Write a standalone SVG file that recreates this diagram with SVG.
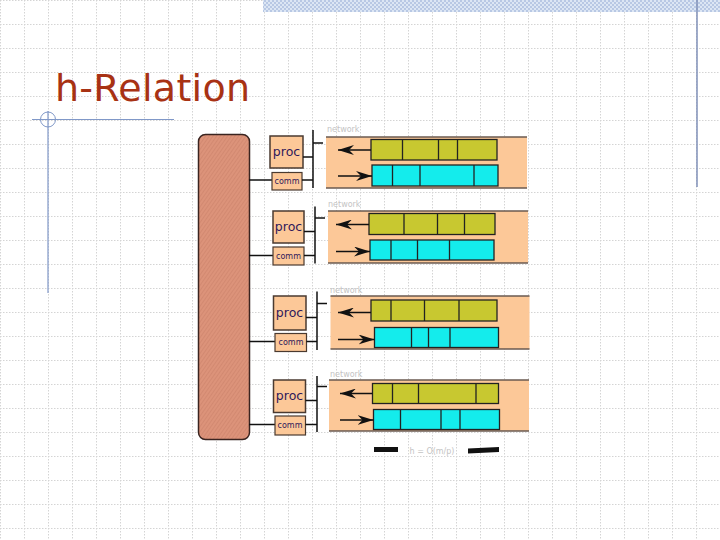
<svg xmlns="http://www.w3.org/2000/svg" width="720" height="540" viewBox="0 0 720 540">
<defs>
<pattern id="grid" x="0" y="0" width="24" height="24" patternUnits="userSpaceOnUse">
<path d="M0 0.5H24M0.5 0V24" stroke="#d4d4d4" stroke-width="1" stroke-dasharray="1.5,1.5" fill="none"/>
</pattern>
<pattern id="check" width="4" height="4" patternUnits="userSpaceOnUse">
<rect width="4" height="4" fill="#dce6f4"/>
<rect width="2" height="2" fill="#b8c8e4"/>
<rect x="2" y="2" width="2" height="2" fill="#b8c8e4"/>
</pattern>
<pattern id="hatch" width="3" height="3" patternUnits="userSpaceOnUse" patternTransform="rotate(35)">
<rect width="3" height="3" fill="#dc937a"/>
<line x1="0" y1="0" x2="0" y2="3" stroke="#c88068" stroke-width="1"/>
</pattern>
<marker id="ah" viewBox="0 0 16 10" refX="16" refY="5" markerWidth="16" markerHeight="10" markerUnits="userSpaceOnUse" orient="auto">
<path d="M0 0L16 5L0 10L5 5Z" fill="#111"/>
</marker>
<style>
.proc{fill:#fcc898;stroke:#4a3a30;stroke-width:1.5}
.comm{fill:#fcc898;stroke:#4a3a30;stroke-width:1.2}
.panel{fill:#fcc898}
.pedge{stroke:#6a5a50;stroke-width:1.5}
.olive{fill:#c8c830;stroke:#222;stroke-width:1.3}
.cyan{fill:#14ecec;stroke:#222;stroke-width:1.3}
.div{stroke:#222;stroke-width:1.3}
.wire{stroke:#111;stroke-width:1.5;fill:none}
.arr{stroke:#111;stroke-width:1.5;fill:none;marker-end:url(#ah)}
.tp{font-family:"DejaVu Sans",Verdana,sans-serif;font-size:12.5px;fill:#30185a}
.tc{font-family:"DejaVu Sans",Verdana,sans-serif;font-size:8px;fill:#30185a}
.tn{font-family:"DejaVu Sans",sans-serif;font-size:8px;fill:#c4c4c4}
</style>
</defs>
<rect width="720" height="540" fill="#fff"/>
<rect width="720" height="540" fill="url(#grid)"/>
<rect x="263" y="0" width="457" height="12" fill="url(#check)"/>
<line x1="697" y1="0" x2="697" y2="187" stroke="#8090b8" stroke-width="1.5"/>
<g id="title">
<text x="55" y="101" font-family="DejaVu Sans,Verdana,sans-serif" font-size="38" fill="#a83214" textLength="195">h-Relation</text>
<line x1="32" y1="119.5" x2="174" y2="119.5" stroke="#8098c8" stroke-width="1.2"/>
<line x1="48" y1="111" x2="48" y2="293" stroke="#8098c8" stroke-width="1.2"/>
<circle cx="48" cy="119.5" r="7.5" fill="none" stroke="#8098c8" stroke-width="1"/>
</g>
<g id="network-bar">
<rect x="198.5" y="134.5" width="51" height="305" rx="7" fill="url(#hatch)" stroke="#3a2420" stroke-width="1.5"/>
</g>
<g id="connectors">
<line class="wire" x1="249" y1="180" x2="272" y2="180"/>
<line class="wire" x1="249" y1="255.5" x2="273" y2="255.5"/>
<line class="wire" x1="249" y1="341.5" x2="275" y2="341.5"/>
<line class="wire" x1="249" y1="424.5" x2="275" y2="424.5"/>
</g>
<g id="node1">
<rect class="panel" x="326" y="137" width="201" height="51"/>
<line class="pedge" x1="326" y1="137" x2="527" y2="137"/>
<line class="pedge" x1="326" y1="188" x2="527" y2="188"/>
<text class="tn" x="327" y="132">network</text>
<rect class="proc" x="270" y="136" width="33" height="32"/>
<text class="tp" x="286.5" y="156" text-anchor="middle">proc</text>
<rect class="comm" x="272" y="172.5" width="30" height="17.5"/>
<text class="tc" x="287" y="184" text-anchor="middle">comm</text>
<path class="wire" d="M303 157H313M302 180H313M313 130V188M313 143H323"/>
<rect class="olive" x="371" y="139.5" width="126" height="20.5"/>
<path class="div" d="M402.5 139.5V160M438.5 139.5V160M457.5 139.5V160"/>
<rect class="cyan" x="372" y="165" width="126" height="21"/>
<path class="div" d="M392.5 165V186M420 165V186M474 165V186"/>
<line class="arr" x1="371" y1="150" x2="338" y2="150"/>
<line class="arr" x1="338" y1="176" x2="372" y2="176"/>
</g>
<g id="node2">
<rect class="panel" x="328" y="211" width="200" height="52"/>
<line class="pedge" x1="328" y1="211" x2="528" y2="211"/>
<line class="pedge" x1="328" y1="263" x2="528" y2="263"/>
<text class="tn" x="328" y="207">network</text>
<rect class="proc" x="273" y="211" width="31" height="32"/>
<text class="tp" x="288.5" y="231" text-anchor="middle">proc</text>
<rect class="comm" x="273" y="247" width="31" height="18"/>
<text class="tc" x="288.5" y="258.5" text-anchor="middle">comm</text>
<path class="wire" d="M304 231.5H315M304 255.5H315M315 206.5V263.5M315 218H325"/>
<rect class="olive" x="369" y="213.5" width="126" height="21"/>
<path class="div" d="M404 213.5V234.5M437.5 213.5V234.5M464.5 213.5V234.5"/>
<rect class="cyan" x="370" y="240" width="124" height="20"/>
<path class="div" d="M391 240V260M417.5 240V260M449.5 240V260"/>
<line class="arr" x1="369" y1="224.5" x2="336" y2="224.5"/>
<line class="arr" x1="336" y1="251.5" x2="370" y2="251.5"/>
</g>
<g id="node3">
<rect class="panel" x="330.5" y="296" width="199" height="53"/>
<line class="pedge" x1="330.5" y1="296" x2="529.5" y2="296"/>
<line class="pedge" x1="330.5" y1="349" x2="529.5" y2="349"/>
<text class="tn" x="330" y="293">network</text>
<rect class="proc" x="273.5" y="296" width="32.5" height="34"/>
<text class="tp" x="289.5" y="316.5" text-anchor="middle">proc</text>
<rect class="comm" x="275" y="333.5" width="31.5" height="18"/>
<text class="tc" x="291" y="345" text-anchor="middle">comm</text>
<path class="wire" d="M306 317.5H317M306.5 341.5H317M317 291.5V350M317 303.5H327"/>
<rect class="olive" x="371" y="300" width="126" height="21"/>
<path class="div" d="M391 300V321M424.5 300V321M459 300V321"/>
<rect class="cyan" x="374.5" y="327.5" width="124" height="20"/>
<path class="div" d="M411.5 327.5V347.5M428.5 327.5V347.5M450 327.5V347.5"/>
<line class="arr" x1="371" y1="312.5" x2="338" y2="312.5"/>
<line class="arr" x1="338" y1="339.5" x2="374.5" y2="339.5"/>
</g>
<g id="node4">
<rect class="panel" x="329" y="380" width="200" height="51"/>
<line class="pedge" x1="329" y1="380" x2="529" y2="380"/>
<line class="pedge" x1="329" y1="431" x2="529" y2="431"/>
<text class="tn" x="330" y="377">network</text>
<rect class="proc" x="273.5" y="380" width="32" height="32.5"/>
<text class="tp" x="289.5" y="400" text-anchor="middle">proc</text>
<rect class="comm" x="275" y="416" width="30.5" height="19"/>
<text class="tc" x="290" y="428" text-anchor="middle">comm</text>
<path class="wire" d="M305.5 400.5H317M305.5 424.5H317M317 376V432M317 386.5H327"/>
<rect class="olive" x="372.5" y="383.5" width="126" height="20"/>
<path class="div" d="M392.5 383.5V403.5M418.5 383.5V403.5M476 383.5V403.5"/>
<rect class="cyan" x="373.5" y="409.5" width="126" height="20"/>
<path class="div" d="M400.5 409.5V429.5M441 409.5V429.5M460 409.5V429.5"/>
<line class="arr" x1="372.5" y1="393.5" x2="340" y2="393.5"/>
<line class="arr" x1="340" y1="420" x2="373.5" y2="420"/>
</g>
<g id="h-label">
<rect x="374" y="447" width="24" height="5" fill="#111"/>
<polygon points="468,448.5 499,447 499,452 468,453.5" fill="#111"/>
<text class="tn" x="432" y="454" text-anchor="middle" font-size="10">h = O(m/p)</text>
</g>
</svg>
